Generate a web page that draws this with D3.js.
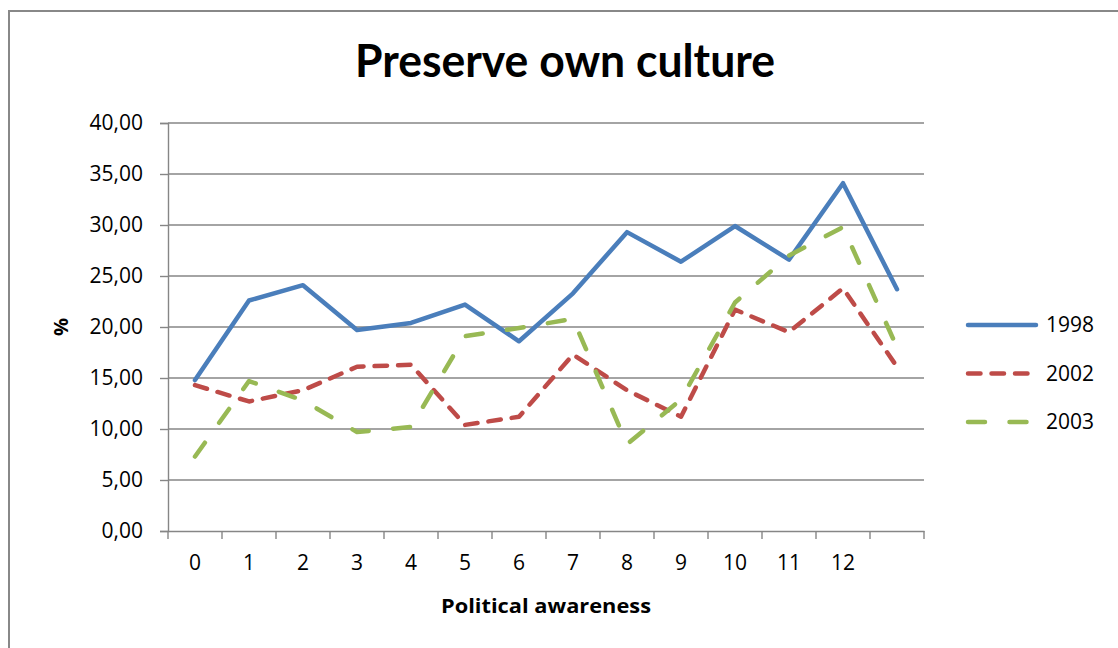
<!DOCTYPE html>
<html>
<head>
<meta charset="utf-8">
<script src="https://cdn.jsdelivr.net/npm/d3@7"></script>
<style>
  html, body { margin: 0; padding: 0; background: #fff; }
  svg { display: block; font-family: "Open Sans", sans-serif; }
</style>
</head>
<body>
<svg id="chart" width="1118" height="648"></svg>
<script>
// Data
const categories = ['0', '1', '2', '3', '4', '5', '6', '7', '8', '9', '10', '11', '12', ''];
const values1998 = [14.8, 22.6, 24.1, 19.7, 20.4, 22.2, 18.6, 23.3, 29.3, 26.4, 29.9, 26.6, 34.1, 23.7];
const values2002 = [14.3, 12.7, 13.8, 16.1, 16.3, 10.4, 11.2, 17.3, 13.8, 11.2, 21.7, 19.5, 23.8, 16.1];
const values2003 = [7.3, 14.7, 12.8, 9.7, 10.2, 19.1, 19.9, 20.8, 8.5, 12.9, 22.4, 27.0, 29.8, 18.0];
const yTicks = [0, 5, 10, 15, 20, 25, 30, 35, 40];

const series = [
  { name: '1998', values: values1998, color: '#4A7EBB', dash: null },
  { name: '2002', values: values2002, color: '#BE4B48', dash: '12.5,11' },
  { name: '2003', values: values2003, color: '#98B954', dash: '17,24.5' }
];

const svg = d3.select('#chart');
const plot = { left: 168, right: 924, top: 123, bottom: 531 };

const x = d3.scaleBand()
  .domain(categories.map((c, i) => i))
  .range([plot.left, plot.right])
  .padding(0);

const y = d3.scaleLinear()
  .domain([0, 40])
  .range([plot.bottom, plot.top]);

const locale = d3.formatLocale({ decimal: ',', thousands: '.', grouping: [3], currency: ['', ''] });
const fmt = locale.format('.2f');

// Outer chart frame (only top and left edges are visible in the picture)
svg.append('rect')
  .attr('x', 9).attr('y', 11)
  .attr('width', 1200).attr('height', 700)
  .attr('fill', 'none')
  .attr('stroke', '#888')
  .attr('stroke-width', 2);

// Title
svg.append('text')
  .attr('x', 565).attr('y', 77)
  .attr('text-anchor', 'middle')
  .attr('font-family', 'Lato, "Open Sans", sans-serif')
  .attr('font-weight', 'bold')
  .attr('font-size', 45)
  .attr('textLength', 420)
  .attr('lengthAdjust', 'spacingAndGlyphs')
  .attr('fill', '#000')
  .text('Preserve own culture');

// Gridlines
svg.append('g')
  .selectAll('line')
  .data(yTicks.filter(d => d > 0))
  .join('line')
  .attr('x1', plot.left).attr('x2', plot.right)
  .attr('y1', d => y(d)).attr('y2', d => y(d))
  .attr('stroke', '#868686')
  .attr('stroke-width', 1.4);

// Y axis
const yAxis = svg.append('g')
  .attr('transform', `translate(${plot.left},0)`)
  .call(d3.axisLeft(y).tickValues(yTicks).tickFormat(fmt).tickSize(8).tickPadding(17));
yAxis.select('.domain').attr('stroke', '#868686').attr('stroke-width', 1.4);
yAxis.selectAll('.tick line').attr('stroke', '#868686').attr('stroke-width', 1.4);
yAxis.selectAll('.tick text')
  .attr('font-family', '"Open Sans", sans-serif')
  .attr('font-size', 21)
  .attr('fill', '#000');

// X axis: ticks sit on category boundaries
const xAxis = svg.append('g')
  .attr('transform', `translate(0,${plot.bottom})`)
  .call(d3.axisBottom(x).tickSize(0).tickPadding(24).tickFormat(i => categories[i]));
xAxis.select('.domain').attr('stroke', '#868686').attr('stroke-width', 1.4);
xAxis.selectAll('.tick text')
  .attr('font-family', '"Open Sans", sans-serif')
  .attr('font-size', 21)
  .attr('fill', '#000');

const boundaries = d3.range(categories.length + 1).map(i => plot.left + i * x.bandwidth());
xAxis.append('g')
  .selectAll('line')
  .data(boundaries)
  .join('line')
  .attr('x1', d => d).attr('x2', d => d)
  .attr('y1', 0).attr('y2', 8)
  .attr('stroke', '#868686')
  .attr('stroke-width', 1.4);

// Axis titles
svg.append('text')
  .attr('x', 546).attr('y', 613)
  .attr('text-anchor', 'middle')
  .attr('font-weight', 'bold')
  .attr('font-size', 20)
  .attr('textLength', 210)
  .attr('lengthAdjust', 'spacingAndGlyphs')
  .text('Political awareness');

svg.append('text')
  .attr('transform', 'translate(68,327) rotate(-90)')
  .attr('text-anchor', 'middle')
  .attr('font-weight', 'bold')
  .attr('font-size', 20)
  .text('%');

// Lines
const line = d3.line()
  .x((d, i) => x(i) + x.bandwidth() / 2)
  .y(d => y(d));

svg.append('g')
  .selectAll('path')
  .data(series)
  .join('path')
  .attr('d', d => line(d.values))
  .attr('fill', 'none')
  .attr('stroke', d => d.color)
  .attr('stroke-width', 4.5)
  .attr('stroke-linejoin', 'round')
  .attr('stroke-linecap', 'round')
  .attr('stroke-dasharray', d => d.dash);

// Legend
const legend = svg.append('g')
  .selectAll('g')
  .data(series)
  .join('g')
  .attr('transform', (d, i) => `translate(968,${325 + i * 48.5})`);

legend.append('line')
  .attr('x1', 0).attr('x2', 68)
  .attr('y1', 0).attr('y2', 0)
  .attr('stroke', d => d.color)
  .attr('stroke-width', 4.5)
  .attr('stroke-linecap', 'round')
  .attr('stroke-dasharray', d => d.dash);

legend.append('text')
  .attr('x', 78).attr('y', 0)
  .attr('dy', '0.35em')
  .attr('font-size', 21)
  .attr('fill', '#000')
  .text(d => d.name);
</script>
</body>
</html>
